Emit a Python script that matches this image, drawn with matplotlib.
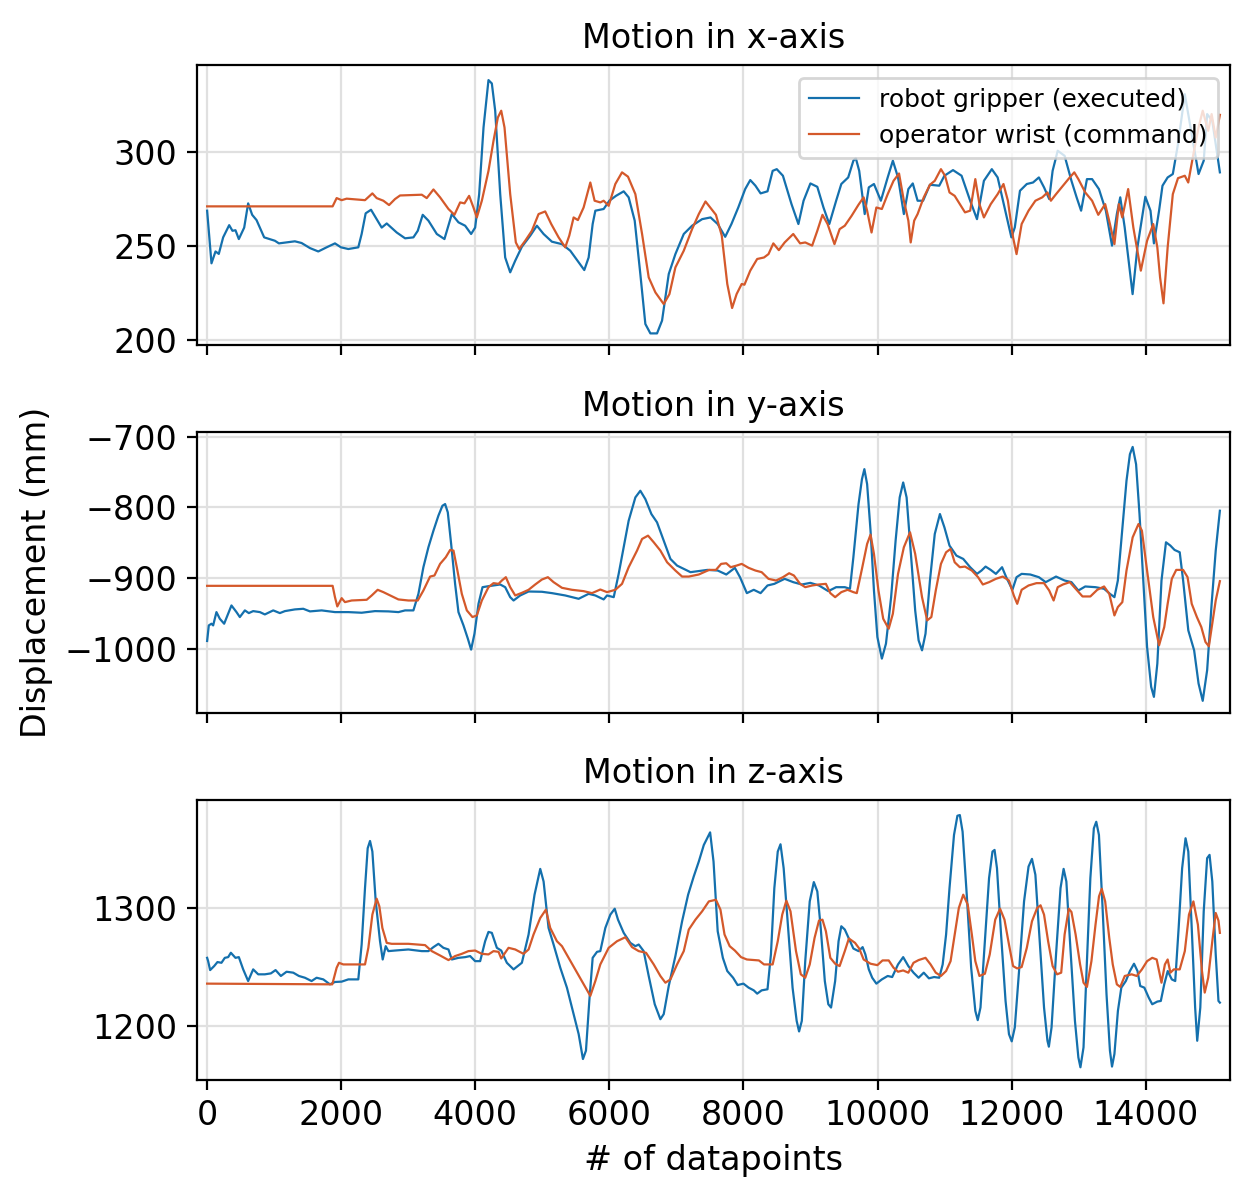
import matplotlib
matplotlib.use("Agg")
import matplotlib.pyplot as plt

# ---------------- data (datapoint index, displacement mm) ----------------
robot_x = [(0,269),(65,241),(125,247.3),(174,246),(239,254.8),(329,261.3),(378,258.3),(423,258.6),(473,253.9),(553,260),(612,272.9),(672,266.8),(737,264),(851,254.8),(1011,253),(1071,251.6),(1309,252.7),(1409,251.8),(1534,249.1),(1658,247.3),(1782,249.5),(1907,251.6),(1997,249.5),(2106,248.6),(2255,249.5),(2305,256.6),(2365,267.6),(2445,269.5),(2529,264.5),(2604,260),(2679,262.2),(2828,257.4),(2953,254.3),(3077,254.8),(3142,258.3),(3216,266.8),(3301,263.7),(3426,256.6),(3540,253.9),(3650,267.2),(3749,262.8),(3849,261),(3938,256.6),(3998,260),(4058,277.8),(4123,313.3),(4197,338.5),(4247,336.7),(4297,322.2),(4372,277.8),(4446,244.1),(4521,236.2),(4596,242.4),(4695,249.8),(4820,255.7),(4919,261),(5019,256.6),(5143,252.5),(5293,251.2),(5417,247.7),(5542,241.5),(5626,237.4),(5691,244.1),(5751,261.9),(5791,269),(5915,269.9),(6000,274.3),(6099,276.9),(6214,279.3),(6288,276.1),(6378,263.7),(6462,235.3),(6537,208.7),(6612,203.7),(6711,203.7),(6786,210.5),(6886,235.3),(6985,245.9),(7110,256.6),(7234,261),(7384,264.5),(7509,265.4),(7616,261.9),(7728,255.1),(7821,261.9),(7923,270.7),(8026,280.5),(8102,285.3),(8179,282.3),(8256,278.2),(8359,279.3),(8436,290.2),(8497,291.1),(8589,287.6),(8717,272.5),(8820,261.9),(8897,274.3),(8999,283.5),(9102,281.7),(9194,270.7),(9281,261.9),(9383,274.3),(9460,283.2),(9563,286.7),(9640,295.6),(9676,297),(9727,290.2),(9809,267.2),(9870,281.4),(9947,283.2),(10050,274.3),(10152,286.7),(10229,295.6),(10306,286.7),(10393,267.2),(10460,280.5),(10526,283.5),(10598,274.3),(10680,274.3),(10782,282.8),(10921,282.3),(10998,287.6),(11126,290.6),(11254,287.6),(11382,274.3),(11484,264.5),(11587,284.9),(11705,291.1),(11792,286.7),(11894,270.7),(11997,254.8),(12048,260.1),(12125,279.6),(12227,283.2),(12320,284.0),(12407,286.7),(12484,281.4),(12561,275.2),(12612,290.2),(12688,300.9),(12791,298.2),(12893,284.9),(12970,276.1),(13037,269),(13124,285.8),(13201,285.8),(13303,280.5),(13406,269),(13498,250.4),(13570,267.2),(13621,276.1),(13687,260.1),(13805,224.6),(13877,249.5),(13995,276.4),(14072,269),(14123,251.6),(14200,269),(14251,282.3),(14328,286.7),(14405,288.5),(14482,304.4),(14584,331),(14687,309.8),(14789,288.5),(14866,295.6),(14917,320.4),(14994,316.8),(15045,304.4),(15107,289.4)]

operator_x = [(0,271.3),(1872,271.3),(1932,275.7),(2007,274.6),(2081,275.4),(2355,274.6),(2465,278.2),(2529,275.7),(2629,274.3),(2714,272),(2803,275.2),(2878,277.1),(3202,277.5),(3276,275.7),(3376,280.3),(3475,276.1),(3600,269.9),(3689,266.8),(3774,273.4),(3839,272.9),(3908,276.9),(3973,270.7),(4023,265.4),(4098,274.3),(4197,290.2),(4272,306.2),(4337,318.6),(4387,322.2),(4436,313.3),(4521,277.8),(4605,252.1),(4655,248.6),(4745,253),(4844,258.3),(4944,267.2),(5043,268.6),(5133,261.9),(5243,254.8),(5342,249.5),(5402,255.7),(5467,265.4),(5531,264),(5616,270.7),(5716,284),(5780,274.3),(5865,273.4),(5915,274.3),(5990,271.6),(6089,283.2),(6189,289.4),(6278,287.1),(6388,277.8),(6488,256.6),(6587,233.5),(6687,225.5),(6811,219.3),(6896,224.6),(6985,238.8),(7110,247.7),(7234,259.2),(7334,267.2),(7434,273.9),(7590,266.8),(7677,255.7),(7759,230),(7831,217.2),(7898,224.6),(7974,230),(8015,229.6),(8102,237.1),(8205,243.3),(8307,244.1),(8374,245.9),(8446,251.6),(8528,248),(8615,252.1),(8743,256.6),(8845,251.6),(8922,252.1),(9025,250.4),(9102,258.3),(9179,266.8),(9255,261.9),(9358,251.2),(9435,259.2),(9512,261),(9614,266.3),(9717,272.2),(9793,276.1),(9845,269),(9911,257.4),(9983,270.7),(10065,269.9),(10152,277.8),(10239,284.9),(10321,288.8),(10393,274.3),(10460,263.7),(10495,252.1),(10547,263.7),(10598,267.2),(10690,276.1),(10782,282.8),(10854,284.9),(10946,291.1),(11007,287.6),(11074,278.7),(11151,276.9),(11228,272.5),(11305,268.1),(11382,269),(11459,285.8),(11520,272.5),(11587,265.4),(11689,272.5),(11792,277.8),(11879,283.2),(11945,274.3),(12022,254.8),(12074,245.9),(12150,261.9),(12253,269),(12355,274.3),(12458,276.1),(12535,278.7),(12586,274.3),(12663,277.8),(12766,282.3),(12868,286.7),(12935,289.4),(12996,285.8),(13099,278.7),(13201,274.3),(13293,266.8),(13396,272.5),(13467,261.9),(13534,251.2),(13600,272.5),(13651,265.4),(13739,280.5),(13816,260.1),(13928,237.1),(14021,253),(14113,261.9),(14174,249.5),(14215,233.5),(14266,219.7),(14328,249.5),(14405,277.8),(14482,286.3),(14584,287.6),(14635,284),(14712,299.1),(14789,313.3),(14851,322.2),(14933,311.5),(14984,320.4),(15045,307.9),(15107,320)]

robot_y = [(0,-988.7),(25,-966.7),(65,-964.3),(90,-966.7),(139,-947.9),(189,-957.3),(254,-964.3),(314,-950.2),(363,-938.5),(438,-947.9),(488,-954.9),(563,-945.5),(622,-949.3),(687,-946.5),(787,-947.9),(861,-951.2),(986,-945.5),(1085,-949.3),(1160,-946.5),(1309,-944.1),(1434,-943.2),(1534,-946.9),(1708,-945.5),(1907,-947.9),(2106,-947.9),(2305,-948.8),(2504,-946.5),(2704,-946.9),(2853,-947.9),(2953,-945.5),(3077,-945.5),(3152,-922.1),(3226,-884.5),(3301,-856.3),(3376,-832.9),(3450,-811.7),(3510,-797.7),(3550,-795.3),(3590,-807),(3640,-851.6),(3699,-908),(3749,-947.9),(3824,-966.7),(3889,-985.4),(3938,-1000.9),(3988,-978.4),(4048,-936.2),(4108,-912.7),(4197,-911.3),(4272,-910.3),(4372,-908.9),(4446,-912.7),(4521,-926.8),(4571,-931.5),(4670,-924.4),(4795,-918.8),(4994,-919.2),(5143,-921.1),(5342,-924.4),(5542,-929.1),(5691,-922.1),(5791,-924.4),(5915,-930),(5965,-924.4),(6065,-926.8),(6139,-893.9),(6214,-856.3),(6288,-818.8),(6388,-785.9),(6462,-776.5),(6537,-788.3),(6627,-809.4),(6711,-821.1),(6811,-846.9),(6911,-872.8),(7010,-882.2),(7110,-886.9),(7210,-891.5),(7384,-889.2),(7462,-888.3),(7616,-889.2),(7744,-894.8),(7872,-885.4),(7949,-898.6),(8051,-921.1),(8154,-916.4),(8256,-921.1),(8359,-910.3),(8461,-908),(8615,-900.9),(8743,-905.6),(8871,-908.9),(8999,-906.6),(9127,-910.3),(9266,-918.3),(9383,-912.7),(9512,-912.7),(9589,-915),(9640,-870.4),(9717,-795.3),(9768,-760.1),(9804,-746),(9845,-767.1),(9896,-832.9),(9947,-917.4),(9998,-983.1),(10065,-1013.6),(10126,-992.5),(10203,-926.8),(10270,-846.9),(10331,-785.9),(10383,-764.8),(10434,-785.9),(10495,-861),(10562,-945.5),(10613,-987.8),(10664,-1001.9),(10716,-978.4),(10782,-903.3),(10854,-837.6),(10931,-809.4),(10998,-828.2),(11074,-854),(11177,-868.1),(11279,-872.8),(11382,-884.5),(11484,-893.9),(11551,-889.2),(11612,-883.6),(11689,-888.3),(11766,-893.9),(11858,-884.5),(11920,-898.6),(12012,-916.4),(12074,-898.6),(12150,-893.9),(12279,-894.8),(12407,-898.6),(12509,-905.6),(12663,-897.7),(12791,-903.3),(12893,-905.6),(12996,-917.4),(13099,-911.7),(13252,-912.7),(13380,-915),(13467,-922.1),(13534,-926.8),(13585,-903.3),(13637,-846.9),(13714,-762.4),(13765,-724.9),(13806,-714.6),(13857,-739),(13908,-809.4),(13970,-912.7),(14021,-997.2),(14082,-1053.5),(14123,-1067.6),(14174,-1020.7),(14236,-903.3),(14303,-849.3),(14369,-854),(14431,-860.1),(14508,-863.4),(14559,-903.3),(14636,-973.7),(14723,-1001.9),(14789,-1048.8),(14851,-1073.2),(14917,-1030),(14984,-936.2),(15045,-861),(15107,-804.7)]

operator_y = [(0,-910.8),(1872,-910.8),(1907,-926.8),(1942,-939.9),(2007,-928.2),(2056,-933.8),(2156,-931.5),(2380,-930.5),(2455,-924.4),(2544,-916.4),(2629,-919.7),(2753,-925.4),(2853,-930),(3002,-931.5),(3142,-931.5),(3226,-917.4),(3326,-897.7),(3391,-896.2),(3475,-879.8),(3560,-870.4),(3625,-860.1),(3675,-861),(3724,-884.5),(3799,-922.1),(3874,-945.5),(3958,-954.9),(4023,-952.6),(4098,-931.5),(4197,-912.7),(4272,-907),(4347,-908),(4396,-903.3),(4456,-898.6),(4521,-912.7),(4596,-924.4),(4695,-920.7),(4795,-916.4),(4894,-908.9),(4994,-901.9),(5083,-898.6),(5168,-905.6),(5293,-913.6),(5442,-916.4),(5616,-918.3),(5741,-921.1),(5865,-916),(5965,-919.7),(6089,-916.4),(6189,-908),(6288,-884.5),(6413,-861),(6488,-844.6),(6577,-839.9),(6662,-849.3),(6761,-861),(6861,-877.5),(6985,-889.2),(7085,-897.7),(7185,-897.7),(7334,-894.8),(7488,-888.3),(7590,-888.3),(7667,-879.8),(7744,-878.9),(7810,-884.5),(7898,-882.2),(7974,-879.8),(8077,-885.4),(8179,-889.2),(8272,-891.5),(8374,-900.9),(8487,-903.3),(8589,-898.6),(8682,-893),(8753,-896.2),(8845,-908),(8922,-912.7),(9025,-910.3),(9127,-908.9),(9230,-908),(9296,-921.1),(9368,-926.8),(9460,-919.7),(9553,-916.4),(9640,-919.7),(9691,-921.1),(9768,-886.9),(9845,-851.6),(9896,-838.5),(9947,-865.7),(10014,-917.4),(10085,-957.3),(10167,-971.4),(10229,-950.2),(10306,-893.9),(10393,-856.3),(10485,-835.2),(10562,-865.7),(10664,-926.8),(10741,-959.6),(10803,-954.9),(10869,-917.4),(10946,-879.8),(11023,-863.4),(11090,-858.7),(11151,-877.5),(11228,-884.5),(11305,-883.6),(11407,-889.2),(11500,-898.6),(11571,-908.9),(11664,-905.6),(11766,-900.9),(11868,-897.7),(11961,-903.3),(12033,-924.4),(12084,-936.2),(12150,-916.4),(12253,-910.3),(12371,-907),(12484,-907),(12561,-917.4),(12627,-931.5),(12688,-912.7),(12766,-908.9),(12868,-905.6),(12970,-916.4),(13058,-925.8),(13175,-925.8),(13278,-916.4),(13380,-911.7),(13457,-922.1),(13534,-952.6),(13585,-940.8),(13652,-933.8),(13714,-889.2),(13806,-842.3),(13893,-823.5),(13944,-832.9),(14021,-889.2),(14113,-954.9),(14200,-994.8),(14277,-969),(14328,-936.2),(14390,-900.9),(14456,-888.3),(14559,-888.3),(14625,-898.6),(14687,-936.2),(14764,-954.9),(14830,-969),(14892,-990.1),(14943,-996.2),(14994,-964.3),(15045,-931.5),(15107,-904.2)]

robot_z = [(0,1257.7),(15,1254.9),(45,1247.3),(105,1250.7),(154,1254.1),(214,1253.5),(264,1257.7),(314,1258.3),(354,1262),(423,1257.7),(473,1258.3),(538,1247.9),(612,1238),(687,1247.9),(762,1243.7),(861,1243.7),(951,1244.5),(1021,1247.3),(1100,1242.3),(1185,1245.9),(1285,1245.1),(1369,1242.3),(1459,1240.8),(1558,1238),(1633,1240.8),(1733,1239.4),(1832,1235.2),(1907,1237.2),(2007,1237.5),(2106,1239.4),(2255,1239.4),(2305,1269),(2355,1316.9),(2395,1350.7),(2430,1356.9),(2465,1347.9),(2515,1305.6),(2579,1271.8),(2619,1256.3),(2664,1267.6),(2704,1263.4),(2803,1263.9),(3002,1264.8),(3202,1263.4),(3301,1263.4),(3376,1266.8),(3450,1269.6),(3525,1266.2),(3600,1264.8),(3650,1256.3),(3749,1257.7),(3849,1258.3),(3923,1259.2),(3998,1254.9),(4073,1254.9),(4147,1271.8),(4197,1279.7),(4247,1278.9),(4322,1266.2),(4387,1263.9),(4471,1253.5),(4571,1247.9),(4695,1253.5),(4795,1277.5),(4884,1311.3),(4969,1333.2),(5019,1322.5),(5093,1283.1),(5168,1269),(5268,1249.3),(5367,1232.4),(5442,1215.5),(5542,1193),(5606,1171.8),(5651,1178.9),(5701,1221.1),(5751,1257.7),(5816,1262.8),(5865,1263.4),(5940,1283.1),(6015,1294.4),(6080,1299.4),(6129,1290.1),(6214,1278.9),(6313,1270.4),(6388,1267.6),(6438,1269),(6512,1263.4),(6587,1242.3),(6677,1218.3),(6761,1205.6),(6811,1209.9),(6886,1233.8),(6985,1259.2),(7085,1288.7),(7175,1311.3),(7259,1326.8),(7334,1339.4),(7409,1353.5),(7503,1364.2),(7554,1339.4),(7616,1280.3),(7693,1257.7),(7759,1246.5),(7846,1240.8),(7913,1234.6),(8000,1235.8),(8077,1232.4),(8154,1230.1),(8205,1227.3),(8272,1230.1),(8359,1231),(8410,1260.6),(8461,1316.9),(8512,1347.9),(8553,1354.1),(8600,1333.8),(8666,1283.1),(8733,1232.4),(8794,1204.2),(8830,1195.2),(8871,1204.2),(8922,1254.9),(8989,1305.6),(9050,1322),(9102,1314.1),(9153,1283.1),(9214,1238),(9266,1218.3),(9307,1215.5),(9368,1238),(9419,1271.8),(9460,1284.5),(9512,1281.7),(9573,1274.1),(9640,1265.6),(9717,1263.4),(9778,1266.8),(9819,1260.6),(9870,1247.9),(9921,1240.8),(9983,1235.8),(10065,1239.4),(10152,1242.3),(10219,1241.4),(10306,1252.1),(10383,1258.3),(10460,1250.7),(10537,1245.1),(10613,1240.8),(10690,1245.1),(10767,1240.3),(10844,1241.4),(10921,1240.8),(10972,1252.1),(11023,1277.5),(11074,1316.9),(11141,1362),(11192,1378.3),(11228,1378.9),(11269,1364.8),(11331,1311.3),(11397,1249.3),(11459,1212.7),(11495,1204.8),(11536,1215.5),(11602,1271.8),(11664,1325.4),(11715,1347.9),(11746,1349.3),(11782,1333.8),(11843,1277.5),(11910,1221.1),(11961,1192.9),(12002,1186.8),(12048,1198.6),(12115,1249.3),(12186,1305.6),(12253,1335.2),(12304,1341.7),(12355,1328.2),(12422,1269),(12484,1215.5),(12535,1187.3),(12556,1182.3),(12596,1198.6),(12663,1260.6),(12730,1316.9),(12776,1333.2),(12817,1322.5),(12883,1260.6),(12945,1204.2),(12996,1173.2),(13027,1164.8),(13073,1181.7),(13124,1254.9),(13175,1325.4),(13227,1367.6),(13263,1373.2),(13303,1362),(13355,1302.8),(13416,1226.8),(13467,1178.9),(13498,1165.4),(13534,1176.1),(13586,1212.7),(13637,1232.4),(13704,1238),(13765,1246.5),(13826,1252.7),(13878,1246.5),(13919,1233.8),(13980,1232.4),(14046,1223.9),(14098,1218.3),(14175,1220.6),(14226,1221.1),(14277,1235.2),(14329,1246.5),(14390,1239.4),(14441,1238),(14492,1283.1),(14544,1333.8),(14595,1359.2),(14636,1347.9),(14687,1283.1),(14738,1215.5),(14769,1187.3),(14815,1215.5),(14866,1297.2),(14917,1342.3),(14953,1345.1),(14994,1322.5),(15045,1260.6),(15086,1221.1),(15107,1219.7)]

operator_z = [(0,1235.8),(1867,1235.2),(1932,1249.3),(1967,1253.5),(2031,1252.1),(2206,1252.1),(2355,1252.1),(2405,1266.2),(2465,1294.4),(2529,1307.9),(2569,1301.4),(2614,1283.1),(2679,1270.4),(2753,1269.6),(3002,1269.6),(3251,1268.5),(3351,1263.4),(3475,1259.7),(3600,1255.8),(3699,1259.2),(3799,1261.1),(3898,1263.4),(3998,1263.9),(4098,1261.1),(4197,1260.6),(4272,1263.4),(4347,1262.8),(4387,1257.2),(4446,1262),(4496,1266.2),(4596,1264.8),(4720,1261.1),(4795,1264.8),(4869,1277.5),(4969,1291.5),(5053,1298.6),(5118,1283.1),(5218,1271.8),(5293,1267.6),(5392,1257.7),(5517,1245.1),(5616,1235.2),(5716,1225.4),(5791,1238),(5865,1252.1),(5990,1266.2),(6114,1271.8),(6239,1275.2),(6338,1266.8),(6438,1263.4),(6547,1262),(6662,1252.1),(6761,1242.3),(6836,1236.6),(6911,1239.4),(7010,1252.1),(7110,1263.4),(7185,1281.7),(7284,1290.1),(7384,1297.2),(7484,1305.6),(7590,1307),(7657,1298.6),(7718,1277.5),(7795,1267.6),(7872,1263.9),(7964,1258.3),(8051,1256.3),(8231,1255.5),(8307,1252.1),(8436,1252.1),(8512,1271.8),(8579,1294.4),(8640,1306.2),(8702,1297.2),(8784,1263.4),(8856,1243.7),(8922,1240.8),(8989,1252.1),(9061,1274.6),(9127,1289.3),(9179,1290.1),(9230,1280.3),(9296,1257.7),(9368,1252.7),(9435,1250.7),(9512,1263.4),(9573,1274.1),(9665,1270.4),(9727,1265.6),(9793,1256.3),(9896,1252.7),(9998,1251.5),(10075,1255.5),(10167,1255.5),(10239,1249.3),(10306,1245.9),(10383,1247),(10460,1245.1),(10537,1253.5),(10613,1255.8),(10716,1257.7),(10792,1252.1),(10869,1245.1),(10946,1242.3),(11023,1246.5),(11090,1254.9),(11151,1277.5),(11213,1300),(11279,1311.3),(11346,1302.8),(11407,1277.5),(11459,1254.9),(11520,1242.3),(11602,1244.2),(11674,1260.6),(11756,1290.1),(11828,1299.4),(11894,1290.1),(11961,1269),(12022,1250.7),(12084,1248.7),(12150,1249.9),(12227,1266.2),(12304,1288.7),(12381,1300),(12432,1302.3),(12484,1294.4),(12545,1271.8),(12612,1250.7),(12678,1243.7),(12740,1245.1),(12791,1277.5),(12853,1299.4),(12893,1296.6),(12955,1277.5),(13022,1252.1),(13073,1236.6),(13124,1233),(13191,1254.9),(13252,1285.9),(13304,1309.9),(13345,1316.3),(13396,1305.6),(13457,1274.6),(13509,1252.1),(13570,1235.2),(13621,1233),(13688,1242.3),(13791,1243.7),(13867,1242.3),(13944,1247.9),(14021,1254.9),(14098,1257.7),(14164,1256.3),(14200,1246.5),(14236,1236.6),(14287,1252.1),(14328,1256.3),(14369,1245.1),(14420,1247.9),(14508,1247.9),(14584,1263.4),(14646,1294.4),(14712,1305.6),(14779,1285.9),(14840,1246.5),(14881,1228.2),(14933,1240.8),(14994,1271.8),(15045,1295.8),(15086,1289.3),(15107,1278.9)]

titles = ["Motion in x-axis", "Motion in y-axis", "Motion in z-axis"]
series_labels = ["robot gripper (executed)", "operator wrist (command)"]
y_ticks = [[200, 250, 300], [-1000, -900, -800, -700], [1200, 1300]]
x_ticks = [0, 2000, 4000, 6000, 8000, 10000, 12000, 14000]

# ---------------- styling ----------------
plt.rcParams["font.family"] = ["DejaVu Sans"]
plt.rcParams["font.size"] = 12
plt.rcParams["axes.titlesize"] = 12
plt.rcParams["axes.labelsize"] = 12

BLUE = "#1470AD"
ORANGE = "#D4592B"
LW = 0.8
ylims = [(197.3, 346.5), (-1090, -694), (1154, 1392)]

fig, axes = plt.subplots(3, 1, sharex=True, figsize=(6.25, 5.99), dpi=200)
fig.subplots_adjust(left=0.1576, right=0.984, top=0.9457, bottom=0.0985, hspace=0.31)

pairs = [(robot_x, operator_x), (robot_y, operator_y), (robot_z, operator_z)]
for i, ax in enumerate(axes):
    r, o = pairs[i]
    rx, ry = zip(*r)
    ox, oy = zip(*o)
    ax.plot(rx, ry, color=BLUE, lw=LW, label=series_labels[0])
    ax.plot(ox, oy, color=ORANGE, lw=LW, label=series_labels[1])
    ax.set_title(titles[i])
    ax.set_yticks(y_ticks[i])
    ax.set_ylim(*ylims[i])
    ax.grid(True, color="#e0e0e0", lw=0.8)
    ax.set_axisbelow(True)

axes[0].set_xticks(x_ticks)
axes[0].set_xlim(-151, 15258)
axes[0].legend(loc="upper right", fontsize=9)
axes[1].set_ylabel("Displacement (mm)")
axes[2].set_xlabel("# of datapoints")

fig.savefig("out.png", dpi=200)
